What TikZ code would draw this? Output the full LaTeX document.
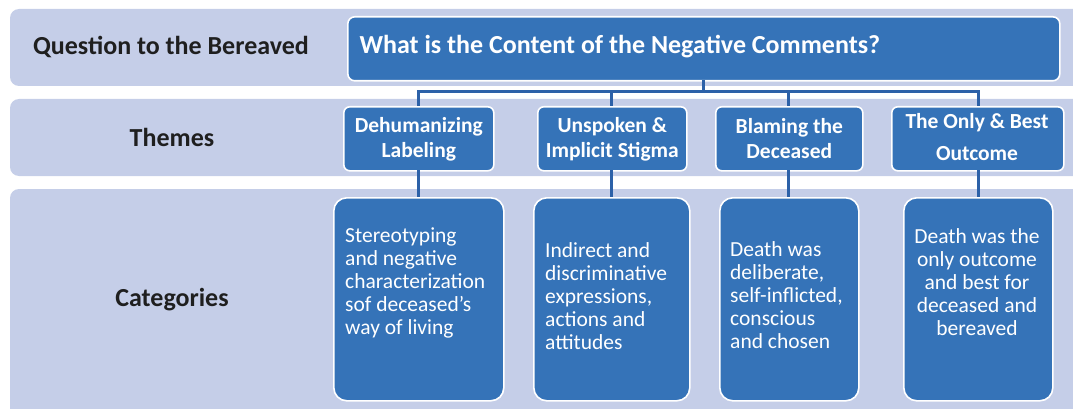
\documentclass[tikz,border=0pt]{standalone}
\usepackage{fontspec}
\setmainfont{Carlito}
\definecolor{bandc}{RGB}{197,206,232}
\definecolor{boxc}{RGB}{53,115,184}
\definecolor{linec}{RGB}{44,97,168}
\tikzset{
  band/.style={fill=bandc, draw=none, rounded corners=9pt},
  qbox/.style={fill=boxc, draw=white, line width=1.6pt, rounded corners=7pt, anchor=north west, inner sep=0pt},
  tbox/.style={fill=boxc, draw=white, line width=1.6pt, rounded corners=6pt, anchor=north west, inner sep=0pt},
  cbox/.style={fill=boxc, draw=white, line width=1.6pt, rounded corners=13pt, anchor=north west, inner sep=0pt},
  head/.style={font=\fontsize{26}{30}\selectfont\bfseries, text=black!88},
  ttext/.style={font=\fontsize{21.5}{25}\selectfont\bfseries, text=white, align=center},
  ctext/.style={font=\fontsize{21.5}{23}\selectfont, text=white},
  conn/.style={draw=linec, line width=3pt},
}
\begin{document}
\begin{tikzpicture}[x=1pt,y=-1pt]
\useasboundingbox (0,0) rectangle (1073,409);
\begin{scope}
\clip (0,0) rectangle (1073,409);
\fill[band] (10,9) rectangle (1090,86);
\fill[band] (10,99) rectangle (1090,176);
\fill[band] (10,189) rectangle (1090,420);
\end{scope}
% labels
\node[head] (lq) at (171,47) {Question to the Bereaved};
\node[head] (lt) at (172,137) {Themes};
\node[head] (lc) at (172,300) {Categories};
% question box
\node[qbox, minimum width=712pt, minimum height=64pt] (q) at (347,16) {};
\node[head, text=white, anchor=west] (qt) at (356,47) {What is the Content of the Negative Comments?};
% theme boxes
\node[tbox, minimum width=150pt, minimum height=64pt] (t1) at (343,106) {};
\node[tbox, minimum width=149pt, minimum height=64pt] (t2) at (537,106) {};
\node[tbox, minimum width=147pt, minimum height=64pt] (t3) at (715,106) {};
\node[tbox, minimum width=172pt, minimum height=64pt] (t4) at (891,106) {};
\node[ttext] (tt1) at (t1.center) {Dehumanizing\\Labeling};
\node[ttext] (tt2) at (t2.center) {Unspoken \&\\Implicit Stigma};
\node[ttext] (tt3) at (t3.center) {Blaming the\\Deceased};
\node[ttext, font=\fontsize{21.5}{32}\selectfont\bfseries] (tt4) at (977,137) {The Only \& Best\\Outcome};
% category boxes
\node[cbox, minimum width=170pt, minimum height=203pt] (c1) at (333,197) {};
\node[cbox, minimum width=156pt, minimum height=203pt] (c2) at (533,197) {};
\node[cbox, minimum width=139pt, minimum height=203pt] (c3) at (719,197) {};
\node[cbox, minimum width=149pt, minimum height=203pt] (c4) at (903,197) {};
\node[ctext, anchor=west, align=left, inner sep=0pt] (ct1) at (345,283) {Stereotyping\\and negative\\characterization\\sof deceased\char"0027 s\\way of living};
\node[ctext, anchor=west, align=left, inner sep=0pt] (ct2) at (545,296) {Indirect and\\discriminative\\expressions,\\actions and\\attitudes};
\node[ctext, anchor=west, align=left, inner sep=0pt] (ct3) at (730,295) {Death was\\deliberate,\\self-inflicted,\\conscious\\and chosen};
\node[ctext, align=center, inner sep=0pt] (ct4) at (977,282) {Death was the\\only outcome\\and best for\\deceased and\\bereaved};
% connectors
\coordinate (bus) at (703,92);
\coordinate (qb) at (703,80);
\draw[conn] (qb) -- (bus);
\draw[conn] (418,106) -- (418,92) -- (978,92) -- (978,106);
\draw[conn] (611,92) -- (611,106);
\draw[conn] (788,92) -- (788,106);
\draw[conn] (418,170) -- (418,197);
\draw[conn] (611,170) -- (611,197);
\draw[conn] (788,170) -- (788,197);
\draw[conn] (978,170) -- (978,197);
\end{tikzpicture}
\end{document}
